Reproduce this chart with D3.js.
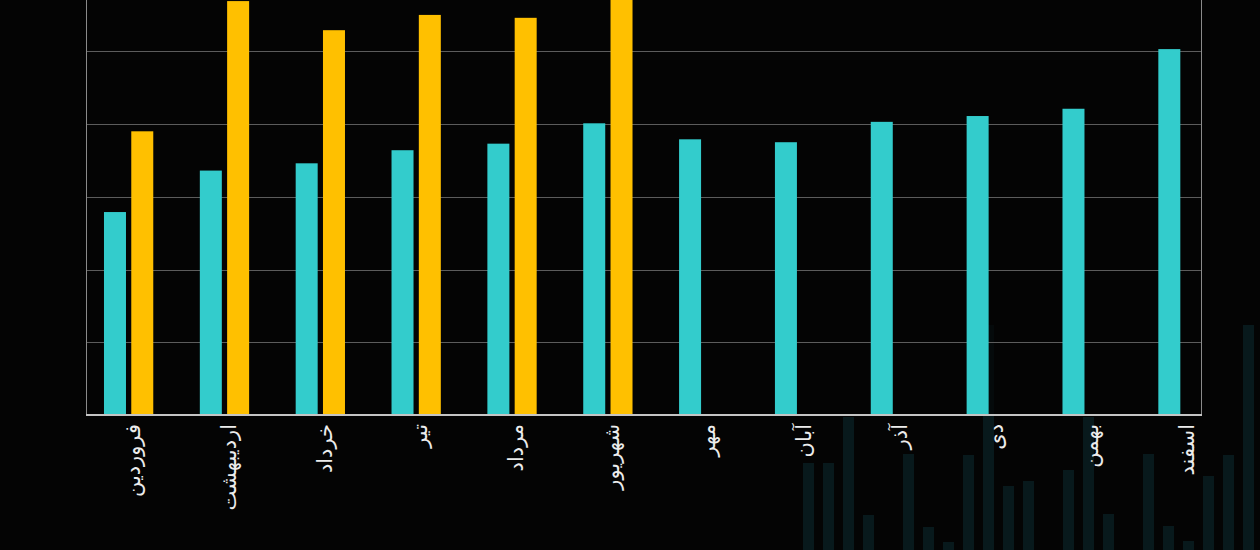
<!DOCTYPE html>
<html>
<head>
<meta charset="utf-8">
<script src="https://cdn.jsdelivr.net/npm/d3@7/dist/d3.min.js"></script>
<style>
  html, body { margin: 0; padding: 0; background: #040404; }
  svg { display: block; }
</style>
</head>
<body>
<svg id="chart" width="1260" height="550"></svg>
<script>
// ---- data ----
const months = ["فروردین","اردیبهشت","خرداد","تیر","مرداد","شهریور","مهر","آبان","آذر","دی","بهمن","اسفند"];
const seriesA = [27.9, 33.6, 34.6, 36.4, 37.3, 40.1, 37.9, 37.5, 40.3, 41.1, 42.1, 50.3];   // cyan
const seriesB = [39.0, 56.9, 52.9, 55.0, 54.6, 60.0, null, null, null, null, null, null]; // yellow
const gridTicks = [10, 20, 30, 40, 50];
// faint decorative background bars (bottom right)
const decorValues = [87, 87, 133, 35, 0, 96, 23, 8, 95, 225, 64, 69, 0, 80, 133, 36, 0, 96, 24, 9, 74, 95, 225];

const W = 1260, H = 550;
const svg = d3.select("#chart");
svg.append("rect").attr("width", W).attr("height", H).attr("fill", "#040404");

const left = 86, right = 1201.5, base = 415;

// decoration
const dx = d3.scaleBand().domain(d3.range(decorValues.length)).range([803, 1254]).paddingInner(0.45).paddingOuter(0);
const dy = d3.scaleLinear().domain([0, 225]).range([550, 325]);
svg.append("g").selectAll("rect").data(decorValues).join("rect")
  .attr("x", (d, i) => dx(i)).attr("width", dx.bandwidth())
  .attr("y", d => dy(d)).attr("height", d => 550 - dy(d))
  .attr("fill", "#08191c");

// plot overlay (dims decoration behind plot area)
svg.append("rect").attr("x", left).attr("y", 0).attr("width", right - left).attr("height", base)
  .attr("fill", "#040404").attr("opacity", 0.7);

const y = d3.scaleLinear().domain([0, 57.05]).range([base, 0]);
const x = d3.scaleBand().domain(months).range([80.7, 80.7 + 12 * 95.85]);
const xs = d3.scaleBand().domain(["a", "b"]).range([0, 49.3]).paddingInner(0.194);
const off = (x.bandwidth() - 49.3) / 2;

// gridlines
svg.append("g").selectAll("line").data(gridTicks).join("line")
  .attr("x1", left).attr("x2", right)
  .attr("y1", d => Math.round(y(d)) + 0.5).attr("y2", d => Math.round(y(d)) + 0.5)
  .attr("stroke", "#5c5c5c").attr("stroke-width", 1);

// vertical frame lines
svg.append("line").attr("x1", left + 0.5).attr("x2", left + 0.5).attr("y1", 0).attr("y2", base)
  .attr("stroke", "#8a8a8a").attr("stroke-width", 1);
svg.append("line").attr("x1", right).attr("x2", right).attr("y1", 0).attr("y2", base)
  .attr("stroke", "#8a8a8a").attr("stroke-width", 1);

// bars
const g = svg.append("g");
g.selectAll("rect.a").data(months).join("rect").attr("class", "a")
  .attr("x", m => x(m) + off + xs("a")).attr("width", xs.bandwidth())
  .attr("y", (m, i) => y(seriesA[i])).attr("height", (m, i) => base - y(seriesA[i]))
  .attr("fill", "#33CCCC");
g.selectAll("rect.b").data(months.filter((m, i) => seriesB[i] != null)).join("rect").attr("class", "b")
  .attr("x", m => x(m) + off + xs("b")).attr("width", xs.bandwidth())
  .attr("y", m => y(seriesB[months.indexOf(m)])).attr("height", m => base - y(seriesB[months.indexOf(m)]))
  .attr("fill", "#FFC000");

// baseline
svg.append("line").attr("x1", left).attr("x2", right + 0.5).attr("y1", base).attr("y2", base)
  .attr("stroke", "#c4c4c4").attr("stroke-width", 2);

// x labels
const xAxis = d3.axisBottom(x).tickSize(0).tickPadding(0);
const ax = svg.append("g").attr("transform", `translate(0,${base})`).call(xAxis);
ax.select(".domain").remove();
ax.selectAll("text")
  .attr("fill", "#ececec")
  .attr("font-family", "DejaVu Sans, sans-serif")
  .attr("font-size", 21)
  .attr("text-anchor", "end")
  .attr("dy", "0.3em")
  .attr("transform", "translate(5,9) rotate(-90)")
  .attr("x", 0).attr("y", 0);
</script>
</body>
</html>
